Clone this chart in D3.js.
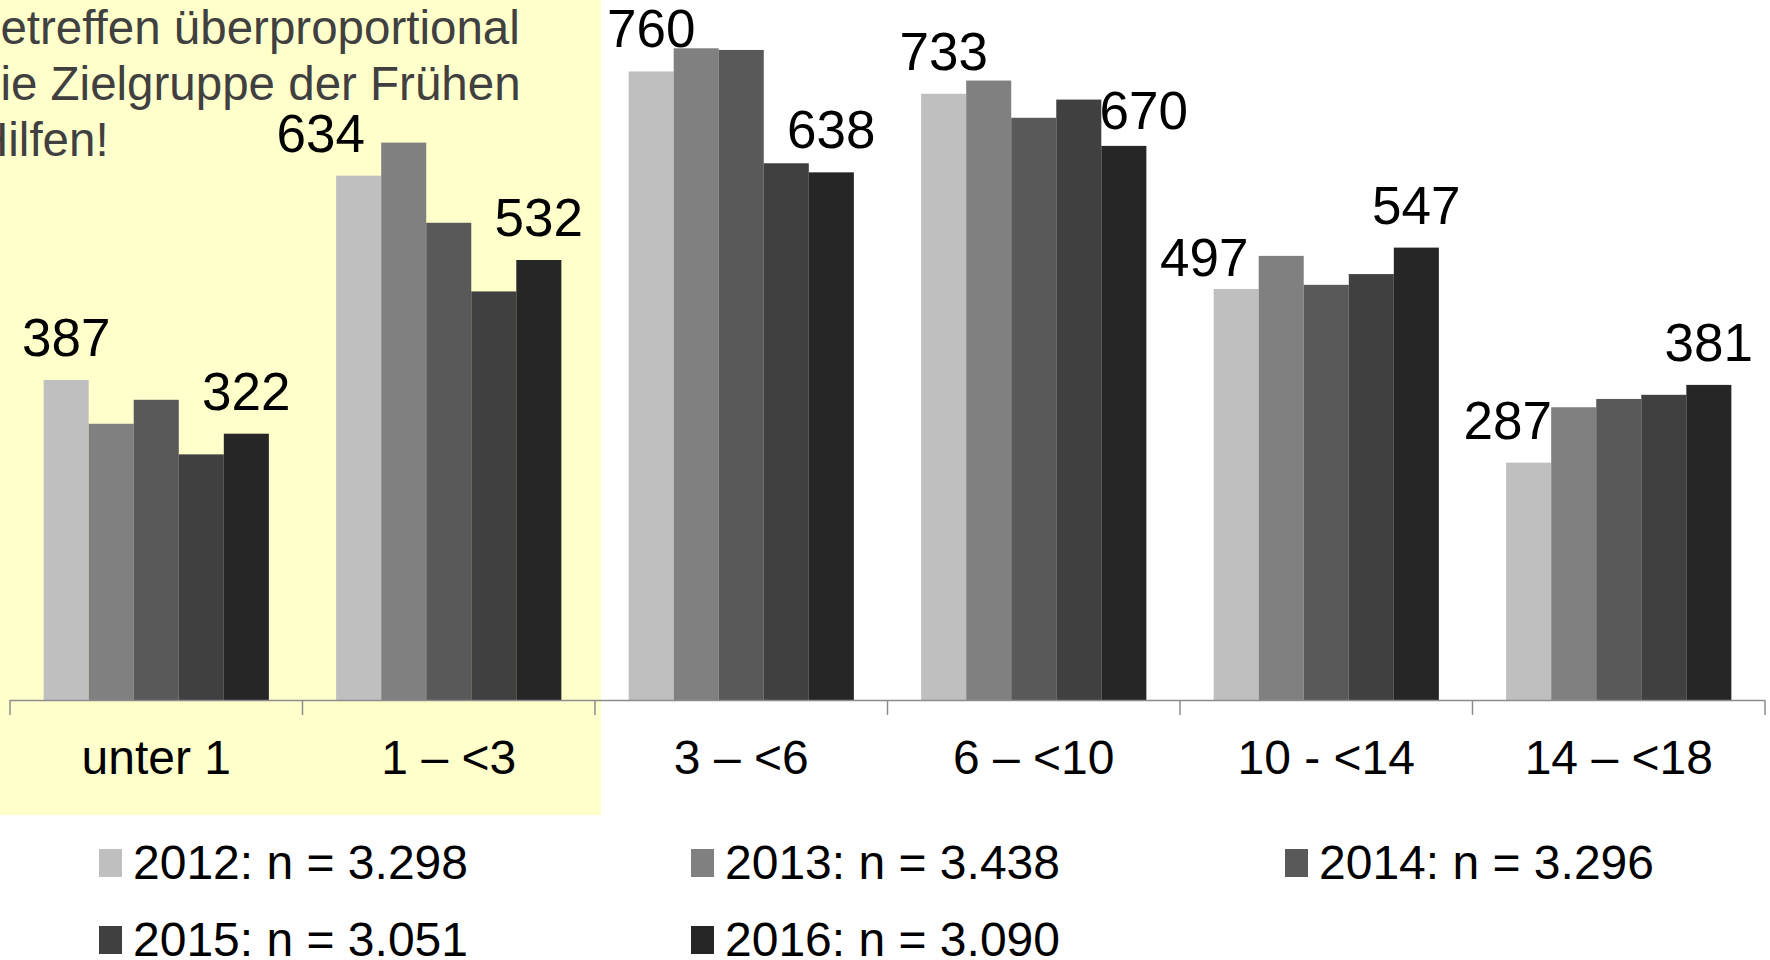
<!DOCTYPE html>
<html>
<head>
<meta charset="utf-8">
<script src="https://cdn.jsdelivr.net/npm/d3@7"></script>
<style>
  html, body { margin: 0; padding: 0; background: #ffffff; }
  svg { display: block; }
  text { font-family: "Liberation Sans", Arial, sans-serif; }
</style>
</head>
<body>
<svg id="chart" width="1770" height="960"></svg>
<script>
// Age groups along the x axis
const categories = ["unter 1", "1 – <3", "3 – <6", "6 – <10", "10 - <14", "14 – <18"];

// Survey years and sample sizes
const years = ["2012", "2013", "2014", "2015", "2016"];
const sampleSizes = ["3.298", "3.438", "3.296", "3.051", "3.090"];

// Cases per age group, one array per year
const values2012 = [387, 634, 760, 733, 497, 287];
const values2013 = [334, 674, 788, 749, 537, 354];
const values2014 = [363, 577, 786, 704, 502, 364];
const values2015 = [297, 494, 649, 726, 515, 369];
const values2016 = [322, 532, 638, 670, 547, 381];

// Headline text (partly running off the left edge)
const headline = ["betreffen überproportional", "die Zielgruppe der Frühen", "Hilfen!"];

const series = [values2012, values2013, values2014, values2015, values2016];
const colors = ["#bfbfbf", "#808080", "#595959", "#404040", "#262626"];

// Only the first and last year carry value labels
const labelledYears = ["2012", "2016"];
// Hand-placed labels that would otherwise collide with neighbouring bars
const labelShift = {
  "1 – <3|2012": [-38, 0],
  "6 – <10|2016": [20, 7],
  "10 - <14|2012": [-32, 11],
  "14 – <18|2012": [-21, 0]
};

const svg = d3.select("#chart");

const baseY = 700;
const x0 = d3.scaleBand()
  .domain(categories)
  .range([10, 1765])
  .paddingInner(0.23)
  .paddingOuter(0.115);

const x1 = d3.scaleBand()
  .domain(years)
  .range([0, x0.bandwidth()]);

const y = d3.scaleLinear()
  .domain([0, 846.4])
  .range([baseY, 0]);

// Highlight panel behind the youngest age groups
svg.append("rect")
  .attr("x", 0).attr("y", 0)
  .attr("width", 601).attr("height", 815)
  .attr("fill", "#ffffcc");

// Headline
const head = svg.append("text")
  .attr("x", -26).attr("y", 44)
  .attr("fill", "#404040")
  .attr("font-size", 47.5);
headline.forEach((line, i) => {
  head.append("tspan")
    .attr("x", -26)
    .attr("y", 44 + i * 56)
    .text(line);
});

// Bars
const rows = categories.map((c, ci) => ({
  cat: c,
  bars: years.map((yr, yi) => ({ cat: c, year: yr, yi, value: series[yi][ci] }))
}));

const groups = svg.append("g").selectAll("g")
  .data(rows)
  .join("g")
  .attr("transform", d => `translate(${x0(d.cat)},0)`);

groups.selectAll("rect")
  .data(d => d.bars)
  .join("rect")
  .attr("x", d => x1(d.year))
  .attr("y", d => y(d.value))
  .attr("width", x1.bandwidth())
  .attr("height", d => baseY - y(d.value))
  .attr("fill", d => colors[d.yi]);

// Value labels
groups.selectAll("text.val")
  .data(d => d.bars.filter(b => labelledYears.includes(b.year)))
  .join("text")
  .attr("class", "val")
  .attr("text-anchor", "middle")
  .attr("font-size", 53)
  .attr("fill", "#000")
  .attr("x", d => x1(d.year) + x1.bandwidth() / 2 + (labelShift[d.cat + "|" + d.year] || [0, 0])[0])
  .attr("y", d => y(d.value) - 24 + (labelShift[d.cat + "|" + d.year] || [0, 0])[1])
  .text(d => d.value);

// Category axis: baseline with ticks at group boundaries
const step = x0.step();
const axisStart = x0.range()[0];
const axis = svg.append("g").attr("stroke", "#8c8c8c").attr("stroke-width", 1.5);
axis.append("line")
  .attr("x1", axisStart).attr("x2", x0.range()[1])
  .attr("y1", baseY + 0.5).attr("y2", baseY + 0.5);
axis.selectAll("line.tick")
  .data(d3.range(categories.length + 1))
  .join("line")
  .attr("class", "tick")
  .attr("x1", i => axisStart + i * step).attr("x2", i => axisStart + i * step)
  .attr("y1", baseY).attr("y2", baseY + 15);

svg.append("g").selectAll("text")
  .data(categories)
  .join("text")
  .attr("x", d => x0(d) + x0.bandwidth() / 2)
  .attr("y", 774)
  .attr("text-anchor", "middle")
  .attr("font-size", 48)
  .attr("fill", "#000")
  .text(d => d);

// Legend: three columns, two rows
const legendCols = [99, 691, 1285];
const legendRows = [879, 956];
const legend = svg.append("g").selectAll("g")
  .data(years.map((yr, i) => ({ yr, i, n: sampleSizes[i] })))
  .join("g")
  .attr("transform", d => `translate(${legendCols[d.i % 3]},${legendRows[Math.floor(d.i / 3)]})`);
legend.append("rect")
  .attr("x", 0).attr("y", -30)
  .attr("width", 23).attr("height", 28)
  .attr("fill", d => colors[d.i]);
legend.append("text")
  .attr("x", 34).attr("y", 0)
  .attr("font-size", 48)
  .attr("fill", "#000")
  .text(d => `${d.yr}: n = ${d.n}`);
</script>
</body>
</html>
